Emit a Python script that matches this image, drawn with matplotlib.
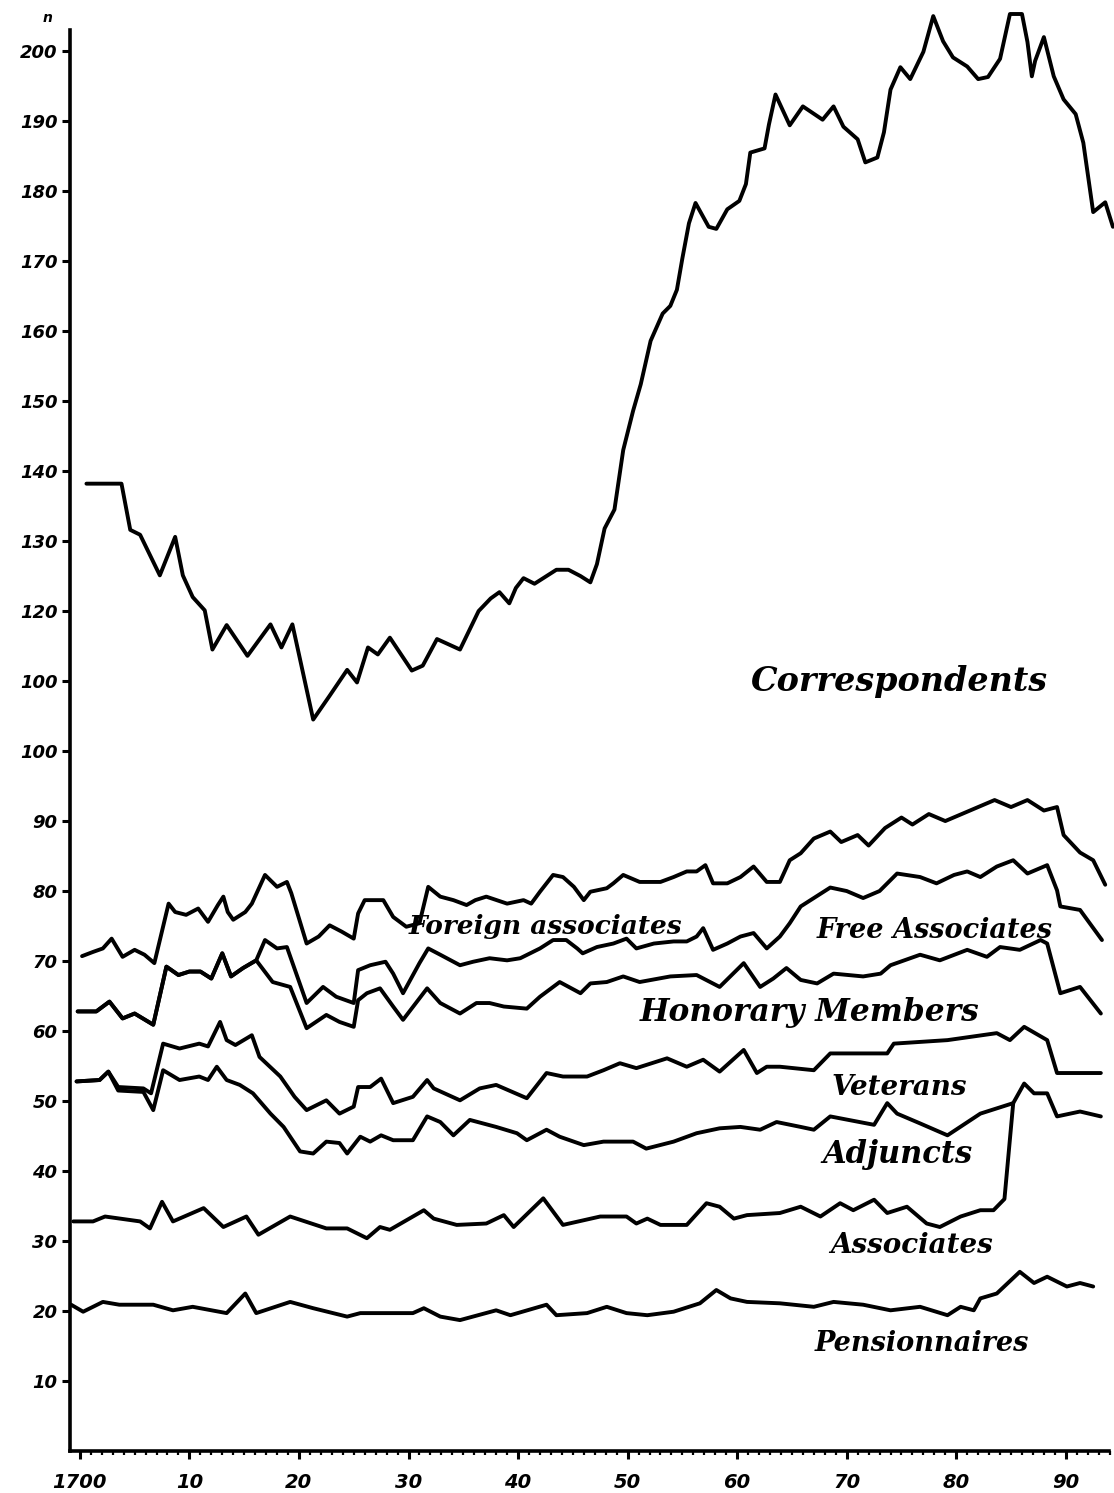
import matplotlib
matplotlib.use("Agg")
import matplotlib.pyplot as plt
from matplotlib.ticker import FixedLocator, MultipleLocator

# ---------------- data (cumulative line heights as drawn) ----------------
cor_years = [1700.6, 1703.8, 1704.6, 1705.5, 1707.3, 1708.7, 1709.4, 1710.3, 1711.4, 1712.1,
             1713.4, 1715.3, 1717.4, 1718.4, 1719.4, 1720.1, 1721.3, 1722.8, 1724.4, 1725.3,
             1726.3, 1727.2, 1728.3, 1730.3, 1731.3, 1732.6, 1734.7, 1736.4, 1737.5, 1738.3,
             1739.2, 1739.8, 1740.5, 1741.5, 1743.5, 1744.6, 1745.7, 1746.6, 1747.2, 1747.9,
             1748.8, 1749.6, 1750.5, 1751.2, 1752.1, 1753.2, 1753.9, 1754.5, 1755.0, 1755.6,
             1756.2, 1757.4, 1758.1, 1759.1, 1760.2, 1760.8, 1761.2, 1762.5, 1762.9, 1763.5,
             1764.8, 1766.0, 1767.8, 1768.8, 1769.7, 1771.0, 1771.7, 1772.8, 1773.4, 1774.0,
             1774.9, 1775.8, 1777.0, 1777.9, 1778.8, 1779.7, 1781.0, 1782.0, 1782.9, 1784.0,
             1784.9, 1786.0, 1786.5, 1786.9, 1787.2, 1788.0, 1788.9, 1789.8, 1790.9, 1791.6,
             1792.5, 1793.6, 1794.3]
cor_values = [138.2, 138.2, 131.6, 130.9, 125.1, 130.6, 125.1, 122.0, 120.1, 114.5,
              118.0, 113.6, 118.1, 114.8, 118.1, 113.1, 104.5, 107.9, 111.6, 109.8,
              114.8, 113.8, 116.2, 111.5, 112.2, 116.0, 114.5, 120.0, 121.8, 122.7,
              121.1, 123.3, 124.7, 123.9, 125.9, 125.9, 125.0, 124.1, 126.7, 131.8,
              134.5, 143.0, 148.6, 152.4, 158.6, 162.5, 163.6, 165.9, 170.4, 175.4,
              178.3, 174.9, 174.6, 177.4, 178.6, 181.0, 185.5, 186.1, 189.5, 193.8,
              189.4, 192.1, 190.2, 192.1, 189.2, 187.4, 184.1, 184.8, 188.4, 194.5,
              197.7, 196.0, 199.9, 205.0, 201.4, 199.1, 197.8, 196.0, 196.3, 198.9,
              205.3, 205.3, 201.3, 196.4, 198.6, 202.0, 196.4, 193.1, 191.0, 186.9,
              177.0, 178.4, 174.9]

foreign_years = [1700.2, 1701.2, 1702.1, 1702.9, 1703.9, 1705.0, 1705.9, 1706.8, 1708.1, 1708.7,
                 1709.7, 1710.8, 1711.7, 1712.6, 1713.1, 1713.5, 1714.0, 1715.1, 1715.7, 1716.9,
                 1718.0, 1718.9, 1719.3, 1720.7, 1721.8, 1722.8, 1723.9, 1725.0, 1725.4, 1726.0,
                 1727.7, 1728.6, 1729.8, 1731.0, 1731.8, 1732.9, 1734.1, 1735.3, 1736.1, 1737.1,
                 1739.0, 1740.5, 1741.2, 1742.0, 1743.2, 1744.1, 1745.1, 1746.0, 1746.6, 1748.1,
                 1748.7, 1749.6, 1751.1, 1753.0, 1754.2, 1755.4, 1756.3, 1757.1, 1757.8, 1759.1,
                 1760.3, 1761.5, 1762.7, 1763.9, 1764.8, 1765.8, 1767.0, 1768.5, 1769.5, 1771.0,
                 1772.0, 1773.5, 1775.0, 1776.0, 1777.5, 1779.0, 1780.5, 1782.0, 1783.5, 1785.0,
                 1786.5, 1788.0, 1789.2, 1789.8, 1791.3, 1792.5, 1793.6]
foreign_values = [70.7, 71.3, 71.8, 73.2, 70.6, 71.6, 70.9, 69.7, 78.2, 77.0,
                  76.6, 77.5, 75.6, 78.0, 79.2, 77.0, 75.9, 77.0, 78.2, 82.3,
                  80.6, 81.3, 79.7, 72.5, 73.5, 75.1, 74.2, 73.2, 76.8, 78.7,
                  78.7, 76.3, 74.9, 75.4, 80.6, 79.2, 78.7, 78.0, 78.7, 79.2,
                  78.2, 78.7, 78.2, 79.9, 82.3, 82.0, 80.6, 78.7, 79.9, 80.4,
                  81.1, 82.3, 81.3, 81.3, 82.0, 82.8, 82.8, 83.7, 81.1, 81.1,
                  82.0, 83.5, 81.3, 81.3, 84.4, 85.4, 87.5, 88.5, 87.0, 88.0,
                  86.5, 89.0, 90.5, 89.5, 91.0, 90.0, 91.0, 92.0, 93.0, 92.0,
                  93.0, 91.5, 92.0, 88.0, 85.5, 84.4, 80.9]

free_years = [1699.8, 1701.5, 1702.7, 1703.9, 1705.0, 1706.7, 1707.9, 1709.0, 1710.0, 1711.0,
              1712.0, 1713.0, 1713.8, 1714.9, 1716.1, 1716.9, 1718.0, 1718.9, 1720.7, 1722.2,
              1723.4, 1725.0, 1725.4, 1726.5, 1727.9, 1728.6, 1729.5, 1731.0, 1731.8, 1732.9,
              1734.7, 1735.9, 1737.4, 1739.0, 1740.2, 1741.1, 1742.0, 1743.2, 1744.4, 1745.4,
              1745.9, 1747.2, 1748.7, 1749.9, 1750.8, 1752.4, 1754.2, 1755.4, 1756.3, 1756.9,
              1757.8, 1759.1, 1760.3, 1761.5, 1762.7, 1763.9, 1764.8, 1765.8, 1767.0, 1768.5,
              1770.0, 1771.5, 1773.0, 1774.6, 1776.7, 1778.2, 1779.8, 1781.0, 1782.2, 1783.7,
              1785.2, 1786.5, 1788.3, 1789.2, 1789.5, 1791.3, 1793.3]
free_values = [62.8, 62.8, 64.2, 61.8, 62.5, 60.9, 69.2, 68.0, 68.5, 68.5,
               67.5, 71.1, 67.8, 69.0, 70.1, 73.0, 71.8, 72.0, 64.0, 66.3,
               64.9, 64.0, 68.7, 69.4, 69.9, 68.2, 65.4, 69.7, 71.8, 70.9,
               69.4, 69.9, 70.4, 70.1, 70.4, 71.1, 71.8, 73.0, 73.0, 71.8,
               71.1, 72.0, 72.5, 73.2, 71.8, 72.5, 72.8, 72.8, 73.5, 74.7,
               71.6, 72.5, 73.5, 74.0, 71.8, 73.5, 75.4, 77.8, 79.0, 80.5,
               80.0, 79.0, 80.0, 82.5, 82.0, 81.1, 82.3, 82.8, 82.0, 83.5,
               84.4, 82.5, 83.7, 80.1, 77.8, 77.3, 73.0]

honor_years = [1699.8, 1701.5, 1702.7, 1703.9, 1705.0, 1706.7, 1707.9, 1709.0, 1710.0, 1711.0,
               1712.0, 1713.0, 1713.8, 1714.9, 1716.1, 1717.6, 1719.2, 1720.7, 1722.5, 1723.7,
               1725.0, 1725.4, 1726.2, 1727.4, 1728.6, 1729.5, 1731.7, 1732.9, 1734.7, 1736.2,
               1737.4, 1738.7, 1740.8, 1742.0, 1743.8, 1745.7, 1746.6, 1748.1, 1749.6, 1751.1,
               1753.9, 1756.3, 1758.4, 1760.6, 1762.1, 1763.3, 1764.5, 1765.8, 1767.3, 1768.8,
               1771.5, 1773.1, 1774.0, 1776.7, 1778.5, 1781.0, 1782.8, 1784.0, 1785.8, 1787.7,
               1788.3, 1789.5, 1791.3, 1793.2]
honor_values = [62.8, 62.8, 64.2, 61.8, 62.5, 60.9, 69.2, 68.0, 68.5, 68.5,
                67.5, 71.1, 67.8, 69.0, 70.1, 67.0, 66.3, 60.4, 62.3, 61.3,
                60.6, 64.4, 65.4, 66.1, 63.5, 61.6, 66.1, 64.0, 62.5, 64.0,
                64.0, 63.5, 63.2, 64.9, 67.0, 65.4, 66.8, 67.0, 67.8, 67.0,
                67.8, 68.0, 66.3, 69.7, 66.3, 67.5, 69.0, 67.3, 66.8, 68.2,
                67.8, 68.2, 69.4, 70.9, 70.1, 71.6, 70.6, 72.0, 71.6, 73.0,
                72.5, 65.4, 66.3, 62.5]

veteran_years = [1699.7, 1701.8, 1702.6, 1703.5, 1705.8, 1706.5, 1707.6, 1709.1, 1710.9, 1711.7,
                 1712.8, 1713.4, 1714.2, 1715.7, 1716.4, 1718.3, 1719.6, 1720.7, 1722.5, 1723.7,
                 1725.0, 1725.4, 1726.5, 1727.5, 1728.6, 1730.4, 1731.7, 1732.3, 1734.7, 1736.5,
                 1738.0, 1740.8, 1742.6, 1744.1, 1746.3, 1747.8, 1749.3, 1750.8, 1753.6, 1755.4,
                 1756.9, 1758.4, 1760.6, 1761.8, 1762.7, 1763.9, 1767.0, 1768.5, 1773.7, 1774.3,
                 1779.2, 1783.7, 1784.9, 1786.2, 1788.3, 1789.2, 1793.2]
veteran_values = [52.8, 53.0, 54.2, 52.0, 51.8, 51.1, 58.2, 57.5, 58.2, 57.8,
                  61.3, 58.7, 58.0, 59.4, 56.3, 53.5, 50.6, 48.7, 50.1, 48.2,
                  49.2, 52.0, 52.0, 53.2, 49.7, 50.6, 53.0, 51.8, 50.1, 51.8,
                  52.3, 50.4, 54.0, 53.5, 53.5, 54.4, 55.4, 54.7, 56.1, 54.9,
                  55.9, 54.2, 57.3, 54.0, 54.9, 54.9, 54.4, 56.8, 56.8, 58.2,
                  58.7, 59.7, 58.7, 60.6, 58.7, 54.0, 54.0]

adjunct_years = [1699.7, 1701.8, 1702.6, 1703.5, 1705.8, 1706.7, 1707.6, 1709.1, 1710.9, 1711.7,
                 1712.5, 1713.4, 1714.6, 1715.8, 1717.4, 1718.6, 1720.1, 1721.3, 1722.5, 1723.7,
                 1724.4, 1725.6, 1726.5, 1727.5, 1728.6, 1730.4, 1731.7, 1732.9, 1734.1, 1735.6,
                 1738.0, 1739.9, 1740.8, 1742.6, 1743.8, 1746.0, 1747.8, 1750.5, 1751.7, 1754.2,
                 1756.3, 1758.4, 1760.3, 1762.1, 1763.6, 1765.8, 1767.0, 1768.5, 1772.5, 1773.7,
                 1774.6, 1776.7, 1779.2, 1782.2, 1785.2]
adjunct_values = [52.8, 53.0, 54.2, 51.5, 51.3, 48.7, 54.4, 53.0, 53.5, 53.0,
                  54.9, 53.0, 52.3, 51.1, 48.2, 46.3, 42.8, 42.5, 44.2, 44.0,
                  42.5, 44.9, 44.2, 45.1, 44.4, 44.4, 47.8, 47.0, 45.1, 47.3,
                  46.3, 45.4, 44.4, 45.9, 44.9, 43.7, 44.2, 44.2, 43.2, 44.2,
                  45.4, 46.1, 46.3, 45.9, 47.0, 46.3, 45.9, 47.8, 46.6, 49.7,
                  48.2, 46.8, 45.1, 48.2, 49.7]

associate_years = [1699.4, 1701.2, 1702.3, 1705.5, 1706.4, 1707.5, 1708.5, 1711.3, 1713.1, 1715.2,
                   1716.3, 1719.2, 1722.5, 1724.4, 1726.2, 1727.4, 1728.3, 1731.4, 1732.3, 1734.4,
                   1737.1, 1738.7, 1739.6, 1742.3, 1744.1, 1747.5, 1749.9, 1750.8, 1751.8, 1753.0,
                   1755.4, 1757.2, 1758.4, 1759.7, 1760.9, 1763.9, 1765.8, 1767.6, 1769.4, 1770.6,
                   1772.5, 1773.7, 1775.5, 1777.3, 1778.5, 1780.4, 1782.2, 1783.4, 1784.4, 1785.2,
                   1786.2, 1787.1, 1788.3, 1789.2, 1791.3, 1793.2]
associate_values = [32.8, 32.8, 33.5, 32.8, 31.8, 35.6, 32.8, 34.7, 32.0, 33.5,
                    30.9, 33.5, 31.8, 31.8, 30.4, 32.0, 31.6, 34.4, 33.2, 32.3,
                    32.5, 33.7, 32.0, 36.1, 32.3, 33.5, 33.5, 32.5, 33.2, 32.3,
                    32.3, 35.4, 34.9, 33.2, 33.7, 34.0, 34.9, 33.5, 35.4, 34.4,
                    35.9, 34.0, 34.9, 32.5, 32.0, 33.5, 34.4, 34.4, 36.0, 49.7,
                    52.5, 51.1, 51.1, 47.8, 48.5, 47.8]

pension_years = [1699.2, 1700.3, 1702.1, 1703.6, 1706.7, 1708.5, 1710.3, 1713.4, 1715.1, 1716.1,
                 1719.2, 1721.3, 1724.4, 1725.6, 1730.4, 1731.4, 1732.9, 1734.7, 1738.0, 1739.3,
                 1742.6, 1743.5, 1746.3, 1748.1, 1749.9, 1751.8, 1754.2, 1756.6, 1758.1, 1759.4,
                 1760.9, 1763.9, 1767.0, 1768.8, 1771.5, 1774.0, 1776.7, 1779.2, 1780.4, 1781.6,
                 1782.2, 1783.7, 1785.8, 1787.1, 1788.3, 1790.1, 1791.3, 1792.5]
pension_values = [20.9, 19.9, 21.3, 20.9, 20.9, 20.1, 20.6, 19.7, 22.5, 19.7,
                  21.3, 20.4, 19.2, 19.7, 19.7, 20.4, 19.2, 18.7, 20.1, 19.4,
                  20.9, 19.4, 19.7, 20.6, 19.7, 19.4, 19.9, 21.1, 23.0, 21.8,
                  21.3, 21.1, 20.6, 21.3, 20.9, 20.1, 20.6, 19.4, 20.6, 20.1,
                  21.8, 22.5, 25.6, 24.0, 24.9, 23.5, 24.0, 23.5]

y_ticks = [10, 20, 30, 40, 50, 60, 70, 80, 90, 100, 110, 120, 130, 140, 150, 160, 170, 180, 190, 200]
y_tick_labels = ["10", "20", "30", "40", "50", "60", "70", "80", "90", "100", "100", "120",
                 "130", "140", "150", "160", "170", "180", "190", "200"]
x_ticks = [1700, 1710, 1720, 1730, 1740, 1750, 1760, 1770, 1780, 1790]
x_tick_labels = ["1700", "10", "20", "30", "40", "50", "60", "70", "80", "90"]

series_labels = ["Correspondents", "Foreign associates", "Free Associates", "Honorary Members",
                 "Veterans", "Adjuncts", "Associates", "Pensionnaires"]
label_years = [1761.2, 1730.0, 1767.3, 1751.1, 1768.6, 1767.8, 1768.5, 1767.1]
label_values = [110.0, 75.0, 74.4, 62.6, 51.9, 42.3, 29.4, 15.3]
label_sizes = [24, 19, 19.5, 22.5, 20, 22, 20, 19.5]

# ---------------- figure ----------------
W, H = 1114, 1493
fig = plt.figure(figsize=(W / 100, H / 100), dpi=100)
fig.patch.set_facecolor("white")
ax = fig.add_axes([70 / W, 42 / H, 1 - 70 / W, 1 - 42 / H])
ax.set_xlim(1699.1, 1794.4)
ax.set_ylim(0, 207.3)
ax.set_facecolor("white")

lw = 2.8
for xs, ys in [(cor_years, cor_values), (foreign_years, foreign_values),
               (free_years, free_values), (honor_years, honor_values),
               (veteran_years, veteran_values), (adjunct_years, adjunct_values),
               (associate_years, associate_values), (pension_years, pension_values)]:
    ax.plot(xs, ys, color="black", lw=lw, solid_joinstyle="round",
            solid_capstyle="round", clip_on=False)

for spine in ["top", "right"]:
    ax.spines[spine].set_visible(False)
ax.spines["left"].set_linewidth(2.6)
ax.spines["bottom"].set_linewidth(2.6)
ax.spines["left"].set_bounds(0, 203)
ax.spines["bottom"].set_bounds(1699.1, 1793.9)

tick_font = dict(family="DejaVu Sans", style="italic", weight="bold")
ax.yaxis.set_major_locator(FixedLocator(y_ticks))
ax.set_yticklabels(y_tick_labels, fontdict=tick_font, fontsize=13)
ax.xaxis.set_major_locator(FixedLocator(x_ticks))
ax.set_xticklabels(x_tick_labels, fontdict=tick_font, fontsize=14)
ax.xaxis.set_minor_locator(MultipleLocator(1))
ax.tick_params(axis="y", direction="out", length=6, width=2.2, pad=3)
ax.tick_params(axis="x", which="major", direction="out", length=6, width=2.2, pad=10)
ax.tick_params(axis="x", which="minor", direction="out", length=3, width=1.6)

for text, xv, yv, fs in zip(series_labels, label_years, label_values, label_sizes):
    ax.text(xv, yv, text, fontsize=fs, family="DejaVu Serif", style="italic",
            weight="bold", ha="left", va="center")

fig.text(48 / W, 1 - 18 / H, "n", fontsize=10, family="DejaVu Sans", style="italic",
         weight="bold", ha="center", va="center")

fig.savefig("out.png", dpi=100, facecolor="white")
